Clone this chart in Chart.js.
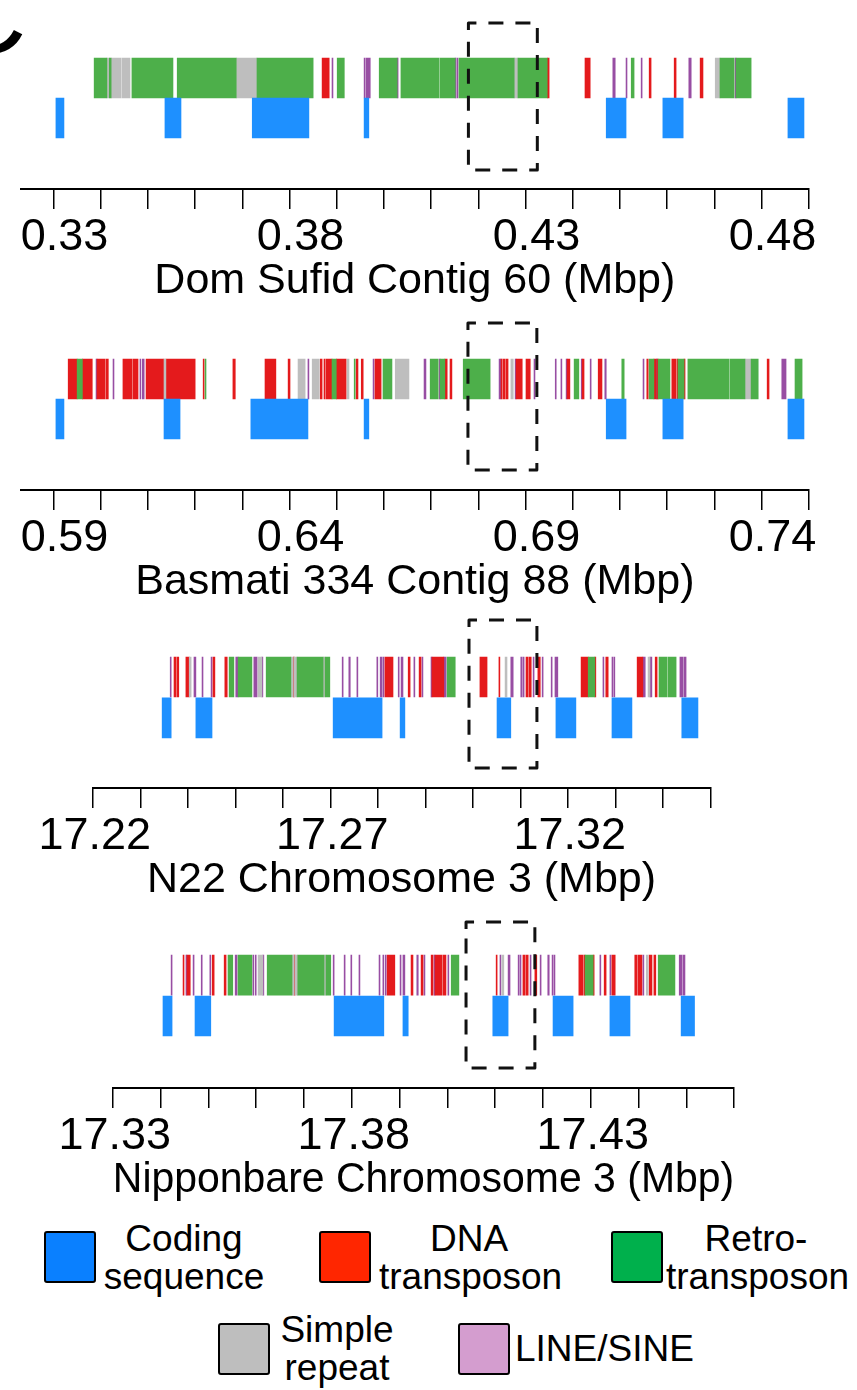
<!DOCTYPE html>
<html><head><meta charset="utf-8">
<script src="https://cdn.jsdelivr.net/npm/chart.js@4.4.1/dist/chart.umd.min.js"></script>
<style>
html,body{margin:0;padding:0;background:#fff;}
#page{position:relative;width:857px;height:1390px;overflow:hidden;font-family:"Liberation Sans",Arial,Helvetica,sans-serif;color:#000;}
canvas{position:absolute;left:0;}
.letter{position:absolute;left:-53px;top:-40px;font-size:110px;line-height:110px;}
.sw{position:absolute;width:48px;height:48px;border:2px solid #000;border-radius:3px;}
.lt{position:absolute;font-size:37px;line-height:38px;text-align:center;white-space:nowrap;}
</style></head>
<body><div id="page">
<div class="letter">C</div>
<canvas id="c1" width="820" height="300"></canvas>
<canvas id="c2" width="820" height="300"></canvas>
<canvas id="c3" width="820" height="300"></canvas>
<canvas id="c4" width="820" height="300"></canvas>

<div class="sw" style="left:44px;top:1231px;background:#0A80FF"></div>
<div class="lt" style="left:94px;width:180px;top:1220px">Coding<br>sequence</div>
<div class="sw" style="left:319px;top:1231px;background:#FF2600"></div>
<div class="lt" style="left:379px;width:180px;top:1220px">DNA<br>transposon</div>
<div class="sw" style="left:611px;top:1231px;background:#00B04C"></div>
<div class="lt" style="left:666px;width:180px;top:1220px">Retro-<br>transposon</div>
<div class="sw" style="left:218px;top:1323px;background:#BEBEBE"></div>
<div class="lt" style="left:277px;width:120px;top:1311px">Simple<br>repeat</div>
<div class="sw" style="left:458px;top:1323px;background:#D49DCF"></div>
<div class="lt" style="left:515px;top:1330px;text-align:left">LINE/SINE</div>
</div>
<script>
// ---------- Panel 1: Dom Sufid Contig 60 ----------
const p1Title = 'Dom Sufid Contig 60 (Mbp)';
const p1TickValues = [0.33,0.34,0.35,0.36,0.37,0.38,0.39,0.40,0.41,0.42,0.43,0.44,0.45,0.46,0.47,0.48,0.49];
const p1TickLabels = ['0.33','','','','','0.38','','','','','0.43','','','','','0.48',''];
const p1Range = [0.3231, 0.49];
const p1Coding = [[0.3305,0.3322],[0.3536,0.3570],[0.3721,0.3841],[0.3958,0.3968],[0.4471,0.4513],[0.4591,0.4634],[0.4856,0.4890]];
const p1Retro = [[0.3386,0.3413],[0.3418,0.3422],[0.3466,0.3553],[0.3562,0.3687],[0.3731,0.3850],[0.3901,0.3916],[0.3990,0.4028],[0.4036,0.4117],[0.4119,0.4151],[0.4159,0.4276],[0.4284,0.4346],[0.4524,0.4530],[0.4712,0.4742],[0.4746,0.4778]];
const p1Simple = [[0.3413,0.3418],[0.3422,0.3443],[0.3445,0.3462],[0.3687,0.3731],[0.4276,0.4284],[0.4702,0.4712]];
const p1DNA = [[0.3869,0.3884],[0.4346,0.4350],[0.4426,0.4437],[0.4562,0.4566],[0.4615,0.4619],[0.4670,0.4676]];
const p1Line = [[0.3890,0.3892],[0.3958,0.3960],[0.3962,0.3971],[0.4028,0.4030],[0.4151,0.4153],[0.4155,0.4157],[0.4485,0.4490],[0.4513,0.4515],[0.4545,0.4547],[0.4646,0.4651],[0.4744,0.4746]];
const p1Box = [0.4179, 0.4325];

// ---------- Panel 2: Basmati 334 Contig 88 ----------
const p2Title = 'Basmati 334 Contig 88 (Mbp)';
const p2TickValues = [0.59,0.60,0.61,0.62,0.63,0.64,0.65,0.66,0.67,0.68,0.69,0.70,0.71,0.72,0.73,0.74,0.75];
const p2TickLabels = ['0.59','','','','','0.64','','','','','0.69','','','','','0.74',''];
const p2Range = [0.5831, 0.75];
const p2Coding = [[0.5905,0.5922],[0.6134,0.6168],[0.6318,0.6439],[0.6558,0.6568],[0.7071,0.7113],[0.7191,0.7234],[0.7456,0.7490]];
const p2Retro = [[0.5950,0.5961],[0.6221,0.6223],[0.6490,0.6499],[0.6537,0.6539],[0.6598,0.6617],[0.6698,0.6715],[0.6719,0.6729],[0.6768,0.6825],[0.7003,0.7013],[0.7104,0.7109],[0.7162,0.7172],[0.7181,0.7206],[0.7223,0.7236],[0.7244,0.7331],[0.7333,0.7365],[0.7378,0.7393],[0.7471,0.7486]];
const p2Simple = [[0.6134,0.6138],[0.6418,0.6433],[0.6448,0.6463],[0.6522,0.6526],[0.6624,0.6653],[0.6869,0.6874],[0.7365,0.7378]];
const p2DNA = [[0.5931,0.5950],[0.5961,0.5982],[0.5992,0.6009],[0.6011,0.6016],[0.6047,0.6066],[0.6068,0.6079],[0.6096,0.6134],[0.6138,0.6200],[0.6217,0.6219],[0.6280,0.6285],[0.6348,0.6371],[0.6397,0.6401],[0.6465,0.6469],[0.6473,0.6475],[0.6477,0.6490],[0.6499,0.6520],[0.6541,0.6545],[0.6552,0.6556],[0.6581,0.6594],[0.6729,0.6734],[0.6740,0.6744],[0.6848,0.6850],[0.6852,0.6857],[0.6859,0.6863],[0.6880,0.6893],[0.6901,0.6910],[0.6988,0.6994],[0.7020,0.7024],[0.7054,0.7062],[0.7157,0.7160],[0.7172,0.7177],[0.7179,0.7181],[0.7210,0.7219],[0.7221,0.7223],[0.7236,0.7238],[0.7412,0.7416]];
const p2Line = [[0.5990,0.5992],[0.6026,0.6028],[0.6083,0.6085],[0.6088,0.6092],[0.6439,0.6441],[0.6577,0.6579],[0.6685,0.6689],[0.6717,0.6719],[0.6844,0.6848],[0.6878,0.6880],[0.6918,0.6920],[0.6963,0.6965],[0.6975,0.6977],[0.6986,0.6988],[0.7018,0.7020],[0.7037,0.7039],[0.7068,0.7071],[0.7149,0.7151],[0.7177,0.7179],[0.7443,0.7452]];
const p2Box = [0.6778, 0.6924];

// ---------- Panel 3: N22 Chromosome 3 ----------
const p3Title = 'N22 Chromosome 3 (Mbp)';
const p3TickValues = [17.22,17.23,17.24,17.25,17.26,17.27,17.28,17.29,17.30,17.31,17.32,17.33,17.34,17.35];
const p3TickLabels = ['17.22','','','','','17.27','','','','','17.32','','',''];
const p3Range = [17.22, 17.35];
const p3Coding = [[17.2346,17.2365],[17.2417,17.2451],[17.2706,17.2809],[17.2847,17.2857],[17.3051,17.3080],[17.3175,17.3217],[17.3293,17.3335],[17.3440,17.3474]];
const p3Retro = [[17.2487,17.2497],[17.2506,17.2535],[17.2565,17.2617],[17.2630,17.2685],[17.2689,17.2699],[17.2946,17.2963],[17.3243,17.3257],[17.3392,17.3409],[17.3411,17.3428]];
const p3Simple = [[17.2403,17.2407],[17.2548,17.2556],[17.2617,17.2622],[17.2624,17.2630],[17.2685,17.2689],[17.3068,17.3072],[17.3369,17.3373]];
const p3DNA = [[17.2371,17.2375],[17.2377,17.2381],[17.2396,17.2403],[17.2453,17.2457],[17.2478,17.2483],[17.2622,17.2624],[17.2815,17.2832],[17.2864,17.2868],[17.2887,17.2891],[17.2914,17.2939],[17.3015,17.3030],[17.3055,17.3057],[17.3112,17.3116],[17.3118,17.3123],[17.3137,17.3142],[17.3228,17.3243],[17.3257,17.3259],[17.3280,17.3285],[17.3346,17.3358],[17.3384,17.3388]];
const p3Line = [[17.2363,17.2365],[17.2413,17.2417],[17.2430,17.2432],[17.2449,17.2451],[17.2501,17.2506],[17.2539,17.2546],[17.2556,17.2558],[17.2725,17.2727],[17.2739,17.2742],[17.2756,17.2758],[17.2798,17.2800],[17.2805,17.2809],[17.2811,17.2813],[17.2843,17.2845],[17.2849,17.2853],[17.2876,17.2878],[17.2893,17.2895],[17.2912,17.2914],[17.2939,17.2944],[17.3080,17.3085],[17.3101,17.3104],[17.3106,17.3108],[17.3127,17.3129],[17.3146,17.3148],[17.3165,17.3167],[17.3173,17.3179],[17.3274,17.3276],[17.3293,17.3295],[17.3297,17.3299],[17.3358,17.3363],[17.3373,17.3377],[17.3436,17.3443],[17.3445,17.3449]];
const p3Box = [17.2992, 17.3135];

// ---------- Panel 4: Nipponbare Chromosome 3 ----------
const p4Title = 'Nipponbare Chromosome 3 (Mbp)';
const p4TickValues = [17.33,17.34,17.35,17.36,17.37,17.38,17.39,17.40,17.41,17.42,17.43,17.44,17.45,17.46];
const p4TickLabels = ['17.33','','','','','17.38','','','','','17.43','','',''];
const p4Range = [17.33, 17.46];
const p4Coding = [[17.3405,17.3424],[17.3472,17.3505],[17.3763,17.3867],[17.3907,17.3918],[17.4095,17.4127],[17.4221,17.4263],[17.4340,17.4382],[17.4489,17.4517]];
const p4Retro = [[17.3541,17.3551],[17.3562,17.3591],[17.3623,17.3675],[17.3687,17.3742],[17.3746,17.3756],[17.4008,17.4024],[17.4288,17.4305],[17.4441,17.4476]];
const p4Simple = [[17.3604,17.3614],[17.3675,17.3679],[17.3681,17.3687],[17.3742,17.3746],[17.4114,17.4118],[17.4416,17.4420]];
const p4DNA = [[17.3447,17.3449],[17.3455,17.3462],[17.3508,17.3512],[17.3533,17.3537],[17.3679,17.3681],[17.3874,17.3890],[17.3924,17.3928],[17.3945,17.3949],[17.3966,17.3970],[17.3974,17.3989],[17.3991,17.3997],[17.4102,17.4104],[17.4158,17.4162],[17.4164,17.4169],[17.4183,17.4187],[17.4275,17.4284],[17.4286,17.4288],[17.4305,17.4307],[17.4328,17.4332],[17.4344,17.4351],[17.4392,17.4397],[17.4399,17.4407],[17.4422,17.4428],[17.4432,17.4436]];
const p4Line = [[17.3422,17.3424],[17.3453,17.3455],[17.3468,17.3470],[17.3485,17.3487],[17.3503,17.3505],[17.3556,17.3560],[17.3593,17.3595],[17.3598,17.3600],[17.3614,17.3616],[17.3761,17.3763],[17.3784,17.3786],[17.3798,17.3800],[17.3815,17.3817],[17.3857,17.3859],[17.3865,17.3867],[17.3870,17.3872],[17.3901,17.3903],[17.3907,17.3911],[17.3936,17.3939],[17.3951,17.3953],[17.3972,17.3974],[17.4001,17.4003],[17.4110,17.4112],[17.4127,17.4131],[17.4148,17.4150],[17.4152,17.4154],[17.4173,17.4175],[17.4194,17.4196],[17.4210,17.4213],[17.4219,17.4221],[17.4223,17.4225],[17.4319,17.4321],[17.4340,17.4342],[17.4409,17.4411],[17.4485,17.4491],[17.4493,17.4497]];
const p4Box = [17.4039, 17.4183];

// ---------- styling / layout ----------
const FONT = '"Liberation Sans", Arial, Helvetica, sans-serif';
const COLORS = {coding:'#1E90FF', dna:'#E41A1C', retro:'#4DAF4A', simple:'#BEBEBE', line:'#984EA3'};
const CANVAS_W = 820;
const TITLE_SIZE = 43;

function makePanel(cfg) {
  const canvas = document.getElementById(cfg.id);
  const centerRel = 75, chartTop = 15, unit = cfg.unit;
  const axisRel = centerRel + cfg.axisOff;
  const titleLH = TITLE_SIZE * 1.2;
  const titleMid = axisRel + 92;
  const H = Math.round(titleMid + titleLH / 2);
  canvas.height = H;
  canvas.style.top = (cfg.center - centerRel) + 'px';
  const yMin = -(centerRel - chartTop) / unit;
  const yMax = yMin + (axisRel - chartTop) / unit;
  const axisHeight = H - titleLH - axisRel;

  const mk = (label, arr, track, color) => ({
    label, data: arr.map(([s, e]) => ({x: [s, e], y: track})),
    backgroundColor: color, borderWidth: 0, barThickness: 40, grouped: false
  });
  const datasets = [
    mk('Coding sequence', cfg.coding, 1, COLORS.coding),
    mk('Retrotransposon', cfg.retro, 0, COLORS.retro),
    mk('Simple repeat', cfg.simple, 0, COLORS.simple),
    mk('DNA transposon', cfg.dna, 0, COLORS.dna),
    mk('LINE/SINE', cfg.line, 0, COLORS.line)
  ];
  const boxPlugin = {
    id: 'dashBox',
    afterDatasetsDraw(chart) {
      const {ctx, scales: {x, y}} = chart;
      const x1 = x.getPixelForValue(cfg.box[0]), x2 = x.getPixelForValue(cfg.box[1]);
      const y1 = y.getPixelForValue(0) - 20 - cfg.boxPad[0];
      const y2 = y.getPixelForValue(1) + 20 + cfg.boxPad[1];
      ctx.save();
      ctx.strokeStyle = '#111'; ctx.lineWidth = 3; ctx.setLineDash([15, 12]);
      ctx.lineJoin = 'round';
      ctx.beginPath();
      ctx.moveTo(x1, y1 + 7); ctx.lineTo(x1, y1); ctx.lineTo(x2, y1); ctx.lineTo(x2, y2);
      ctx.lineTo(x1, y2); ctx.lineTo(x1, y1 + 7);
      ctx.stroke();
      ctx.restore();
    }
  };
  return new Chart(canvas, {
    type: 'bar',
    data: {datasets},
    plugins: [boxPlugin],
    options: {
      indexAxis: 'y', responsive: false, animation: false, events: [],
      layout: {padding: {top: chartTop, left: cfg.leftPx, right: CANVAS_W - cfg.rightPx, bottom: 0}},
      plugins: {
        legend: {display: false}, tooltip: {enabled: false},
        title: {display: true, text: cfg.title, position: 'bottom', color: '#000',
          font: {family: FONT, size: TITLE_SIZE, weight: 'normal', lineHeight: 1.2}, padding: 0}
      },
      scales: {
        x: {
          type: 'linear', position: 'bottom', min: cfg.range[0], max: cfg.range[1],
          afterBuildTicks: s => { s.ticks = cfg.tickValues.map(v => ({value: v})); },
          afterFit: s => { s.height = axisHeight; },
          grid: {drawOnChartArea: false, drawTicks: true, tickLength: 20, color: '#000', lineWidth: 1.5},
          border: {display: true, color: '#000', width: 2},
          ticks: {autoSkip: false, maxRotation: 0, minRotation: 0, padding: 1.5,
            labelOffset: cfg.labelOffset, color: '#000',
            font: {family: FONT, size: 45, lineHeight: 1.2},
            callback: (v, i) => cfg.tickLabels[i]}
        },
        y: {type: 'linear', reverse: true, min: yMin, max: yMax, display: false}
      }
    }
  });
}

makePanel({id:'c1', title:p1Title, tickValues:p1TickValues, tickLabels:p1TickLabels, range:p1Range,
  coding:p1Coding, retro:p1Retro, simple:p1Simple, dna:p1DNA, line:p1Line, box:p1Box,
  center:75, unit:45, axisOff:114, leftPx:21, rightPx:808.7, labelOffset:11, boxPad:[35,32]});
makePanel({id:'c2', title:p2Title, tickValues:p2TickValues, tickLabels:p2TickLabels, range:p2Range,
  coding:p2Coding, retro:p2Retro, simple:p2Simple, dna:p2DNA, line:p2Line, box:p2Box,
  center:376, unit:45, axisOff:114, leftPx:21, rightPx:808.7, labelOffset:11, boxPad:[36,31]});
makePanel({id:'c3', title:p3Title, tickValues:p3TickValues, tickLabels:p3TickLabels, range:p3Range,
  coding:p3Coding, retro:p3Retro, simple:p3Simple, dna:p3DNA, line:p3Line, box:p3Box,
  center:674, unit:46, axisOff:114, leftPx:92.8, rightPx:710.3, labelOffset:2, boxPad:[37,30]});
makePanel({id:'c4', title:p4Title, tickValues:p4TickValues, tickLabels:p4TickLabels, range:p4Range,
  coding:p4Coding, retro:p4Retro, simple:p4Simple, dna:p4DNA, line:p4Line, box:p4Box,
  center:972, unit:46, axisOff:116, leftPx:112.8, rightPx:734.2, labelOffset:2, boxPad:[33,32]});
</script>
</body></html>
